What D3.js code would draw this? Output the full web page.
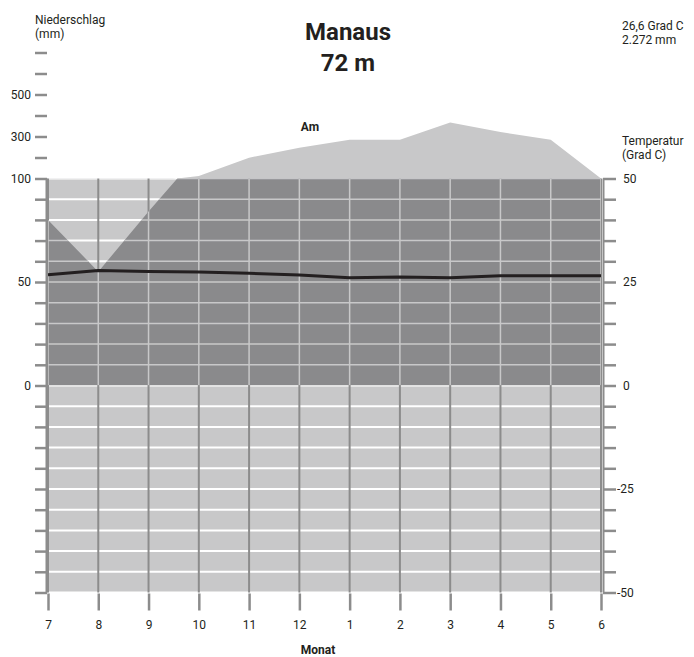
<!DOCTYPE html>
<html>
<head>
<meta charset="utf-8">
<script src="https://cdn.jsdelivr.net/npm/d3@7"></script>
<style>
  body { margin: 0; background: #fff; }
  text { font-family: Roboto, "Noto Sans", sans-serif; fill: #231f20; }
</style>
</head>
<body>
<div id="chart"></div>
<script>
// Klimadiagramm Manaus
var months = ["7", "8", "9", "10", "11", "12", "1", "2", "3", "4", "5", "6"];
var temperature = [26.75, 27.8, 27.55, 27.4, 27.1, 26.7, 26.0, 26.2, 26.0, 26.5, 26.5, 26.5];
var precipitation = [80, 55, 84, 112, 199, 246, 284, 284, 367, 321, 284, 100];
var precTicks = [-100, -90, -80, -70, -60, -50, -40, -30, -20, -10, 0, 10, 20, 30, 40, 50, 60, 70, 80, 90, 100];
var precLabels = [0, 50, 100];
var precHighTicks = [200, 300, 400, 500, 600, 700];
var precHighLabels = [300, 500];
var tempTicks = [-50, -45, -40, -35, -30, -25, -20, -15, -10, -5, 0, 5, 10, 15, 20, 25, 30, 35, 40, 45, 50];
var tempLabels = [-50, -25, 0, 25, 50];

var width = 694, height = 657;
var pLeft = 48, pRight = 601, pTop = 178.5, pZero = 385.5, pBottom = 592.5;

var dark = "#8a8a8c", light = "#c8c8c9", axisGrey = "#8c8c8c";

var x = d3.scalePoint().domain(months).range([pLeft, pRight]);
var yP = d3.scaleLinear().domain([0, 100]).range([pZero, pTop]);
var yHigh = d3.scaleLinear().domain([100, 700]).range([pTop, 52.5]);
var yT = d3.scaleLinear().domain([-50, 50]).range([pBottom, pTop]);

var svg = d3.select("#chart").append("svg")
    .attr("width", width)
    .attr("height", height);

var defs = svg.append("defs");
defs.append("clipPath").attr("id", "plotUpper")
  .append("rect").attr("x", pLeft).attr("y", pTop).attr("width", pRight - pLeft).attr("height", pZero - pTop);
defs.append("clipPath").attr("id", "aboveHundred")
  .append("rect").attr("x", pLeft).attr("y", 0).attr("width", pRight - pLeft).attr("height", pTop);

var wetArea = d3.area()
    .x(function(d, i) { return x(months[i]); })
    .y0(pZero)
    .y1(function(d) { return yP(d); });

defs.append("clipPath").attr("id", "wet")
  .append("path").attr("d", wetArea(precipitation));

// background of the plot
svg.append("rect")
    .attr("x", pLeft).attr("y", pTop)
    .attr("width", pRight - pLeft).attr("height", pBottom - pTop)
    .attr("fill", light);

// grid in the light part
var gridLight = svg.append("g");
gridLight.selectAll("line.h")
    .data(precTicks)
  .enter().append("line")
    .attr("class", "h")
    .attr("x1", pLeft).attr("x2", pRight)
    .attr("y1", function(d) { return yP(d); })
    .attr("y2", function(d) { return yP(d); })
    .attr("stroke", "#fff").attr("stroke-width", 2);
gridLight.selectAll("line.v")
    .data(months)
  .enter().append("line")
    .attr("class", "v")
    .attr("x1", function(d) { return x(d); })
    .attr("x2", function(d) { return x(d); })
    .attr("y1", pTop).attr("y2", pBottom)
    .attr("stroke", axisGrey).attr("stroke-width", 2);

// humid area up to 100 mm
var upper = svg.append("g").attr("clip-path", "url(#plotUpper)");
upper.append("path")
    .attr("d", wetArea(precipitation))
    .attr("fill", dark);

var wetGrid = upper.append("g").attr("clip-path", "url(#wet)");
wetGrid.selectAll("line.h")
    .data(precTicks.filter(function(d) { return d > 0; }))
  .enter().append("line")
    .attr("x1", pLeft).attr("x2", pRight)
    .attr("y1", function(d) { return yP(d); })
    .attr("y2", function(d) { return yP(d); })
    .attr("stroke", light).attr("stroke-width", 1.5);
wetGrid.selectAll("line.v")
    .data(months)
  .enter().append("line")
    .attr("x1", function(d) { return x(d); })
    .attr("x2", function(d) { return x(d); })
    .attr("y1", pTop).attr("y2", pZero)
    .attr("stroke", light).attr("stroke-width", 1.5);

// precipitation above 100 mm (scale 1:10)
var highArea = d3.area()
    .x(function(d, i) { return x(months[i]); })
    .y0(pTop)
    .y1(function(d) { return yHigh(d); });
svg.append("path")
    .attr("clip-path", "url(#aboveHundred)")
    .attr("d", highArea(precipitation))
    .attr("fill", light);

// temperature line
var tempLine = d3.line()
    .x(function(d, i) { return x(months[i]); })
    .y(function(d) { return yT(d); });
svg.append("path")
    .attr("d", tempLine(temperature))
    .attr("fill", "none")
    .attr("stroke", "#231f20")
    .attr("stroke-width", 3);

// left axis
var leftAxis = svg.append("g")
    .attr("transform", "translate(" + (pLeft - 1) + ",0)")
    .call(d3.axisLeft(yP).tickValues(precTicks).tickSize(12).tickPadding(4)
      .tickFormat(function(d) { return precLabels.indexOf(d) >= 0 ? d : ""; }));
var leftHigh = svg.append("g")
    .attr("transform", "translate(" + (pLeft - 1) + ",0)")
    .call(d3.axisLeft(yHigh).tickValues(precHighTicks).tickSize(12).tickPadding(4)
      .tickFormat(function(d) { return precHighLabels.indexOf(d) >= 0 ? d : ""; }));
leftHigh.select(".domain").remove();

// right axis
var rightAxis = svg.append("g")
    .attr("transform", "translate(" + (pRight + 2) + ",0)")
    .call(d3.axisRight(yT).tickValues(tempTicks).tickSize(13).tickPadding(7)
      .tickFormat(function(d) { return tempLabels.indexOf(d) >= 0 ? d : ""; }));
rightAxis.selectAll(".tick text")
    .attr("dx", function(d) { return d < 0 ? -6 : 0; });

// bottom axis
var xAxis = svg.append("g")
    .attr("transform", "translate(0," + (pBottom + 1) + ")")
    .call(d3.axisBottom(x).tickSize(17).tickPadding(10));
xAxis.select(".domain").remove();

[leftAxis, leftHigh, rightAxis, xAxis].forEach(function(a) {
  a.selectAll(".domain").attr("stroke", axisGrey).attr("stroke-width", 2);
  a.selectAll(".tick line").attr("stroke", axisGrey).attr("stroke-width", 2.5);
  a.selectAll(".tick text").style("font-size", "12px").attr("fill", "#231f20")
      .style("font-family", "Roboto, 'Noto Sans', sans-serif");
});
leftAxis.select(".domain").attr("d", "M-0.5," + pTop + "V" + pBottom);
rightAxis.select(".domain").attr("d", "M0.5," + pTop + "V" + pBottom);

// texts
svg.append("text").attr("x", 348).attr("y", 40)
    .attr("text-anchor", "middle").style("font-size", "24px").style("font-weight", "bold")
    .text("Manaus");
svg.append("text").attr("x", 348).attr("y", 71)
    .attr("text-anchor", "middle").style("font-size", "24px").style("font-weight", "bold")
    .text("72 m");

svg.append("text").attr("x", 35).attr("y", 24).style("font-size", "12px").text("Niederschlag");
svg.append("text").attr("x", 35).attr("y", 38).style("font-size", "12px").text("(mm)");

svg.append("text").attr("x", 622).attr("y", 30).style("font-size", "12px").text("26,6 Grad C");
svg.append("text").attr("x", 622).attr("y", 44).style("font-size", "12px").text("2.272 mm");

svg.append("text").attr("x", 622).attr("y", 145).style("font-size", "12px").text("Temperatur");
svg.append("text").attr("x", 622).attr("y", 159).style("font-size", "12px").text("(Grad C)");

svg.append("text").attr("x", 310).attr("y", 131)
    .attr("text-anchor", "middle").style("font-size", "12px").style("font-weight", "bold")
    .text("Am");

svg.append("text").attr("x", 318).attr("y", 654)
    .attr("text-anchor", "middle").style("font-size", "12px").style("font-weight", "bold")
    .text("Monat");
</script>
</body>
</html>
